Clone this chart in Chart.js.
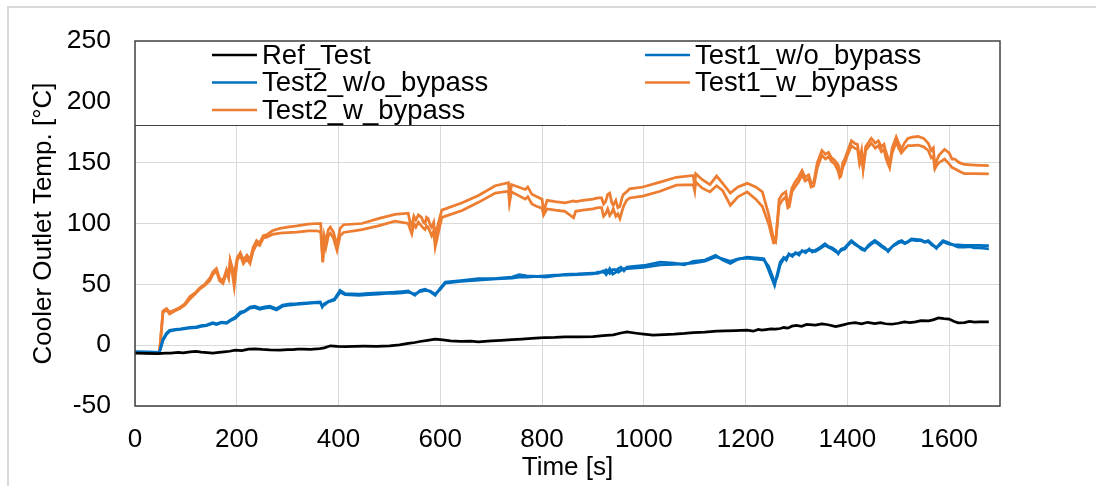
<!DOCTYPE html>
<html>
<head>
<meta charset="utf-8">
<script src="https://cdn.jsdelivr.net/npm/chart.js@4/dist/chart.umd.min.js"></script>
<style>
  html, body { margin: 0; padding: 0; background: #fff; }
  canvas { display: block; }
</style>
</head>
<body>
<canvas id="chart" width="1096" height="486"></canvas>
<script>
// Cooler outlet temperature over time, five test runs

const refTime = [
  0, 20, 45, 60, 70, 85, 95, 108, 120, 130, 142, 153, 165, 175, 186, 197, 210, 223, 236, 250,
  265, 285, 300, 310, 320, 330, 345, 363, 372, 384, 398, 413, 430, 450, 475, 500, 520, 537, 550, 560,
  575, 590, 605, 620, 640, 660, 675, 700, 720, 741, 760, 780, 795, 806, 825, 845, 870, 900, 920, 940,
  955, 967, 985, 1000, 1018, 1040, 1060, 1080, 1097, 1120,
  1143, 1160, 1180, 1203, 1215, 1225, 1232, 1240, 1250, 1259, 1268, 1275, 1283, 1291, 1300, 1310, 1320, 1337, 1350, 1362,
  1377, 1390, 1402, 1415, 1428, 1440, 1454, 1465, 1475, 1487, 1500, 1512, 1523, 1534, 1545, 1560, 1570, 1579, 1590, 1600,
  1610, 1618, 1630, 1640, 1650, 1660, 1678];
const refTest = [
  -6.5, -6.8, -7, -6.5, -6.6, -6, -6.3, -5.5, -5.2, -5.8, -6.2, -6.6, -6, -5.5, -5, -4.1, -4.4, -3.3, -3, -3.5,
  -3.8, -4, -3.7, -3.6, -3.2, -3.3, -3.5, -2.8, -2.2, -0.5, -1, -1.2, -0.9, -0.8, -0.9, -0.5, 0.2, 1.4, 2.2, 3,
  4, 4.9, 4.3, 3.6, 3.2, 3.3, 2.7, 3.5, 4, 4.5, 5, 5.5, 6, 6.3, 6.4, 6.8, 6.9, 7, 7.8, 8.5,
  10, 10.9, 9.8, 9, 8.2, 8.6, 9, 9.6, 10.4, 10.7,
  11.5, 11.8, 12, 12.3, 11.5, 13, 12.3, 12.8, 13.4, 13.2, 13.7, 14.5, 14, 15.6, 16.2, 15.5, 17, 16.4, 17.5, 16.8,
  15.2, 16.5, 17.8, 18.5, 17.5, 18.8, 17.8, 18.5, 17.6, 17.2, 18, 19.2, 18.5, 19.1, 20.2, 20, 21, 22.4, 21.8, 21.5,
  19.5, 18.3, 18.6, 19.5, 19, 19.2, 19.1];

const noBypassTime = [
  0, 30, 48, 55, 62, 68, 80, 90, 105, 121, 130, 140, 153, 160, 170, 180, 187, 197, 207, 215,
  226, 235, 245, 255, 265, 278, 290, 305, 318, 330, 340, 352, 364, 368, 372, 380, 392, 403, 413, 440,
  460, 478, 495, 510, 525, 537, 550, 560, 570, 580, 590, 600, 610, 640, 675, 710, 741, 755, 770, 790,
  806, 825, 845, 870, 900, 910, 920, 926, 933, 939, 945, 950, 955, 961, 967, 1000, 1032, 1060, 1080, 1097,
  1120, 1141, 1155, 1170, 1185, 1203, 1225, 1236, 1245, 1257, 1262, 1268, 1275, 1280, 1285, 1292, 1298, 1305, 1311, 1318,
  1325, 1331, 1337, 1345, 1356, 1363, 1370, 1377, 1382, 1388, 1395, 1401, 1408, 1414, 1420, 1427, 1434, 1441, 1447, 1454,
  1461, 1467, 1474, 1480, 1490, 1500, 1507, 1513, 1520, 1526, 1535, 1545, 1552, 1559, 1567, 1575, 1581, 1588, 1594, 1600,
  1610, 1618, 1630, 1640, 1650, 1660, 1670, 1678];
const test1NoBypass = [
  -5.5, -5.8, -6, 5, 10, 12.3, 13, 13.5, 14.5, 15, 16, 16.5, 18.4, 17.5, 19, 18.5, 20.5, 23, 27.3, 28,
  31.4, 32, 30.5, 31.5, 32, 30, 33, 34, 34.2, 34.5, 34.8, 35.2, 35.5, 31.4, 34, 36, 38, 45, 42.4, 42,
  42.5, 43, 43.2, 43.5, 44, 44.5, 41, 45, 46, 44, 41, 47, 51.9, 53, 54.6, 55, 56, 58, 57, 56.5,
  56, 57, 58.2, 58.5, 59.3, 59, 61, 58, 62.8, 58.5, 60, 63, 64, 61, 64.1, 65.5, 68.3, 67.5, 66, 68.9,
  70, 73.8, 70, 67.2, 70.5, 72.4, 71.5, 71, 62, 49.2, 58, 68.3, 72, 70, 75.1, 73, 76, 74, 77.8, 76,
  79, 76.5, 78, 80, 83.3, 81, 80, 78, 75.1, 79, 80, 83, 86, 84, 82, 79, 77.8, 82, 84, 86,
  84, 82, 80, 77, 82, 85, 86, 84, 85.5, 87.4, 87, 86.5, 85, 86, 83, 79.6, 83, 86, 85, 84,
  82, 80.5, 80.5, 81, 80, 80, 79.5, 79.2];
const test2NoBypass = [
  -5.5, -5.8, -6, 4, 9, 11.5, 12.5, 13, 14, 14.5, 15.5, 16, 17.8, 17, 18.5, 18, 20, 22, 26, 27.5,
  30.5, 31, 29.5, 30.5, 31, 29, 32, 33, 33.5, 34, 34.3, 34.8, 35, 32.5, 33, 35.5, 37, 43.5, 41.5, 41,
  41.5, 42, 42.5, 42.5, 43, 43.5, 42, 44, 45, 44.5, 42, 46, 51, 52.5, 53.5, 54.5, 55, 56, 56, 56.5,
  57, 57.5, 57.5, 58, 58.5, 60, 60, 62, 59, 62, 62, 60, 61.5, 63, 63, 64, 66, 66.5, 67, 67.5,
  69, 72.5, 71, 69, 71, 71.5, 70.5, 70, 65, 52, 56, 66, 71, 72, 74, 74.5, 75, 76, 77, 77.5,
  78, 78, 77, 79, 82, 80.5, 79, 77, 76, 78, 79, 82, 85, 83, 81.5, 80, 78.5, 81, 83, 85,
  83, 81, 79, 78, 81.5, 84, 85, 83.5, 85, 86.5, 86, 86, 84.5, 85, 82, 80.5, 82, 85, 84, 83,
  82.5, 82.5, 82, 82, 82, 82, 81.8, 81.8];

const bypassTime = [
  0, 30, 48, 55, 62, 68, 78, 88, 98, 108, 118, 127, 137, 147, 153, 160, 166, 173, 180, 184,
  187, 191, 195, 201, 207, 213, 220, 226, 232, 239, 245, 252, 260,
  270, 285, 300, 318, 340, 357, 365, 369, 372, 375, 380, 384, 390, 397, 403, 410,
  446, 478, 511, 537, 541, 544, 548, 552, 557, 563, 567, 570, 573, 576, 580, 583, 587, 590, 593, 596, 603,
  643, 675, 708, 734, 736, 740, 767, 772, 780, 790, 800, 803, 810, 826, 845, 862, 866, 880, 900,
  910, 917, 921, 925, 929, 933, 937, 940, 945, 949, 953, 957, 960, 966, 972, 998,
  1032, 1064, 1097, 1100, 1102, 1115, 1130, 1143, 1155, 1170, 1185, 1203, 1220, 1233, 1245, 1255, 1259,
  1266, 1272, 1279, 1283, 1286, 1291, 1297, 1304, 1311, 1317, 1324, 1329, 1334, 1341, 1350, 1357, 1363, 1369, 1375, 1382,
  1385, 1387, 1391, 1395, 1401, 1408, 1414, 1420, 1424, 1428, 1431, 1436,
  1447, 1455, 1461, 1467, 1472, 1475, 1479, 1483, 1488, 1496, 1501, 1506, 1512, 1519, 1527, 1539, 1550, 1559, 1565, 1569,
  1572, 1576, 1580, 1591, 1600, 1606, 1611, 1620, 1630, 1650, 1678];
const test1Bypass = [
  -6, -6.3, -6.5, 28, 30, 27, 29, 31, 34, 40, 43, 47, 50, 55, 60, 63, 55, 53, 62, 57,
  70, 64, 58, 72, 76, 70, 74, 70, 80, 86, 84, 90, 91,
  94, 96, 97, 98, 99.5, 100, 100, 70, 90, 85, 95, 97, 93, 82, 96, 99,
  100, 104, 107.5, 108.5, 100, 98, 106, 103, 107, 105, 101, 100, 105, 104, 99, 97, 101, 88, 95, 100, 111,
  117, 123, 131, 133.5, 120, 132, 128, 130, 124, 122, 120, 110, 119, 118, 117, 118.5, 118, 119, 120,
  121, 121, 116, 118, 124, 125, 117, 115, 119, 113, 114, 121, 124, 126, 128.5, 130,
  134, 138, 139.5, 130, 141, 136, 132, 139, 133, 125, 130, 133, 130, 126, 108, 87, 85,
  120, 124, 126, 116, 118, 129, 134, 138, 143.5, 138, 140, 133, 134, 150, 160, 157, 158.5, 154, 152, 148,
  141, 140, 150, 153, 160, 168, 166, 165, 152, 160, 146, 163,
  170, 166, 168, 163, 165, 160, 155, 148, 162, 171, 166, 161, 166, 170, 171, 171.5, 170, 166, 160, 162,
  147, 152, 156, 161, 158, 153, 153, 150, 148.5, 148, 147.5];
const test2Bypass = [
  -6, -6.3, -6.5, 27, 29, 25.7, 28, 30, 33, 38, 42, 46, 49, 53, 58, 61, 53, 50.7, 60, 55,
  68, 60, 48, 70, 73.8, 67, 71, 67, 77, 83, 82, 88, 89,
  91, 92, 92.5, 93, 94, 94, 93, 68, 86, 80, 90, 92, 88, 78, 90, 92.6,
  95, 98, 102, 100, 95, 91.5, 100, 97, 101, 98, 96, 95, 98, 97, 93, 90, 94, 80.6, 86, 92, 105,
  110.7, 117.4, 125, 126.5, 117, 126, 120, 122, 116, 114, 112.6, 107, 112, 111, 110, 104.7, 110, 111, 112,
  113, 113, 106, 108, 112, 106.6, 109, 112, 106, 108, 104, 110, 114, 119, 121, 122.5,
  126.5, 131.5, 132, 127, 134, 129, 126, 131, 127, 115, 122, 126, 120, 114, 100, 84, 84.7,
  115, 119, 122, 113, 114, 126, 130, 134, 140, 135, 137, 130, 131, 146, 156, 153, 155, 151, 149, 143,
  138, 139, 146, 150, 157, 164, 162, 161, 149, 155, 144.8, 160,
  166, 162, 164, 159, 161, 155, 150, 146, 158, 167, 162, 158, 161, 164, 164, 164.5, 163, 160, 154, 155,
  145, 148, 150, 153, 149, 146, 145, 143, 141, 141, 140.7];

const xTicks = { min: 0, max: 1700, step: 200 };
const yTicks = { min: -50, max: 250, step: 50 };

const FONT = '"Liberation Sans", Arial, sans-serif';
const BLACK = '#000000';
const BLUE = '#0070C0';
const ORANGE = '#ED7D31';

function points(times, values) {
  return times.map((t, i) => ({ x: t, y: values[i] }));
}

function series(label, times, values, color) {
  return {
    label,
    data: points(times, values),
    borderColor: color,
    backgroundColor: color,
    borderWidth: 2.75,
    pointRadius: 0,
    tension: 0,
    fill: false
  };
}

// light frame around the figure
const frame = {
  id: 'frame',
  beforeDraw(chart) {
    const ctx = chart.ctx;
    ctx.save();
    ctx.fillStyle = '#ffffff';
    ctx.fillRect(0, 0, chart.width, chart.height);
    ctx.strokeStyle = '#d9d9d9';
    ctx.lineWidth = 2;
    ctx.beginPath();
    ctx.moveTo(8, chart.height);
    ctx.lineTo(8, 7);
    ctx.lineTo(chart.width, 7);
    ctx.stroke();
    ctx.restore();
  }
};

// legend box laid over the top of the plot area, two columns, plus the plot border
const boxedLegend = {
  id: 'boxedLegend',
  afterDatasetsDraw(chart) {
    const { ctx, chartArea: a } = chart;
    const boxH = 84;
    ctx.save();
    ctx.fillStyle = '#ffffff';
    ctx.fillRect(a.left, a.top, a.right - a.left, boxH);
    ctx.strokeStyle = '#404040';
    ctx.lineWidth = 1;
    ctx.beginPath();
    ctx.moveTo(a.left, Math.round(a.top + boxH) + 0.5);
    ctx.lineTo(a.right, Math.round(a.top + boxH) + 0.5);
    ctx.stroke();

    ctx.font = '27.5px ' + FONT;
    ctx.textBaseline = 'middle';
    ctx.textAlign = 'left';
    const colX = [a.left + 77, a.left + 510];
    chart.data.datasets.forEach((ds, i) => {
      const col = i % 2, row = Math.floor(i / 2);
      const y = a.top + 14 + row * 27.5;
      const x = colX[col];
      ctx.strokeStyle = ds.borderColor;
      ctx.lineWidth = 2.5;
      ctx.beginPath();
      ctx.moveTo(x, y);
      ctx.lineTo(x + 45, y);
      ctx.stroke();
      ctx.fillStyle = '#000000';
      ctx.fillText(ds.label, x + 50, y + 1);
    });

    ctx.strokeStyle = '#404040';
    ctx.lineWidth = 1.5;
    ctx.strokeRect(a.left, a.top, a.right - a.left, a.bottom - a.top);
    ctx.restore();
  }
};

new Chart(document.getElementById('chart'), {
  type: 'line',
  data: {
    datasets: [
      series('Ref_Test', refTime, refTest, BLACK),
      series('Test1_w/o_bypass', noBypassTime, test1NoBypass, BLUE),
      series('Test2_w/o_bypass', noBypassTime, test2NoBypass, BLUE),
      series('Test1_w_bypass', bypassTime, test1Bypass, ORANGE),
      series('Test2_w_bypass', bypassTime, test2Bypass, ORANGE)
    ]
  },
  options: {
    responsive: false,
    animation: false,
    devicePixelRatio: 1,
    layout: { padding: { left: 20, top: 41, right: 96, bottom: 0 } },
    plugins: {
      legend: { display: false },
      tooltip: { enabled: false }
    },
    scales: {
      x: {
        type: 'linear',
        min: xTicks.min,
        max: xTicks.max,
        afterFit(scale) { scale.height = 80; },
        ticks: {
          stepSize: xTicks.step,
          includeBounds: false,
          color: '#000000',
          font: { family: FONT, size: 26 },
          padding: 18,
          maxRotation: 0,
          callback: (v) => String(v)
        },
        grid: { color: '#d9d9d9', lineWidth: 1, drawTicks: false },
        border: { display: false },
        title: {
          display: true,
          text: 'Time [s]',
          color: '#000000',
          font: { family: FONT, size: 26 },
          padding: { top: 0, bottom: 3 }
        }
      },
      y: {
        type: 'linear',
        min: yTicks.min,
        max: yTicks.max,
        afterFit(scale) { scale.width = 115; },
        ticks: {
          stepSize: yTicks.step,
          color: '#000000',
          font: { family: FONT, size: 26.5 },
          padding: 24,
          callback: (v) => String(v)
        },
        grid: { color: '#d9d9d9', lineWidth: 1, drawTicks: false },
        border: { display: false },
        title: {
          display: true,
          text: 'Cooler Outlet Temp. [°C]',
          color: '#000000',
          font: { family: FONT, size: 26 },
          padding: { top: 8, bottom: 0 }
        }
      }
    }
  },
  plugins: [frame, boxedLegend]
});
</script>
</body>
</html>
